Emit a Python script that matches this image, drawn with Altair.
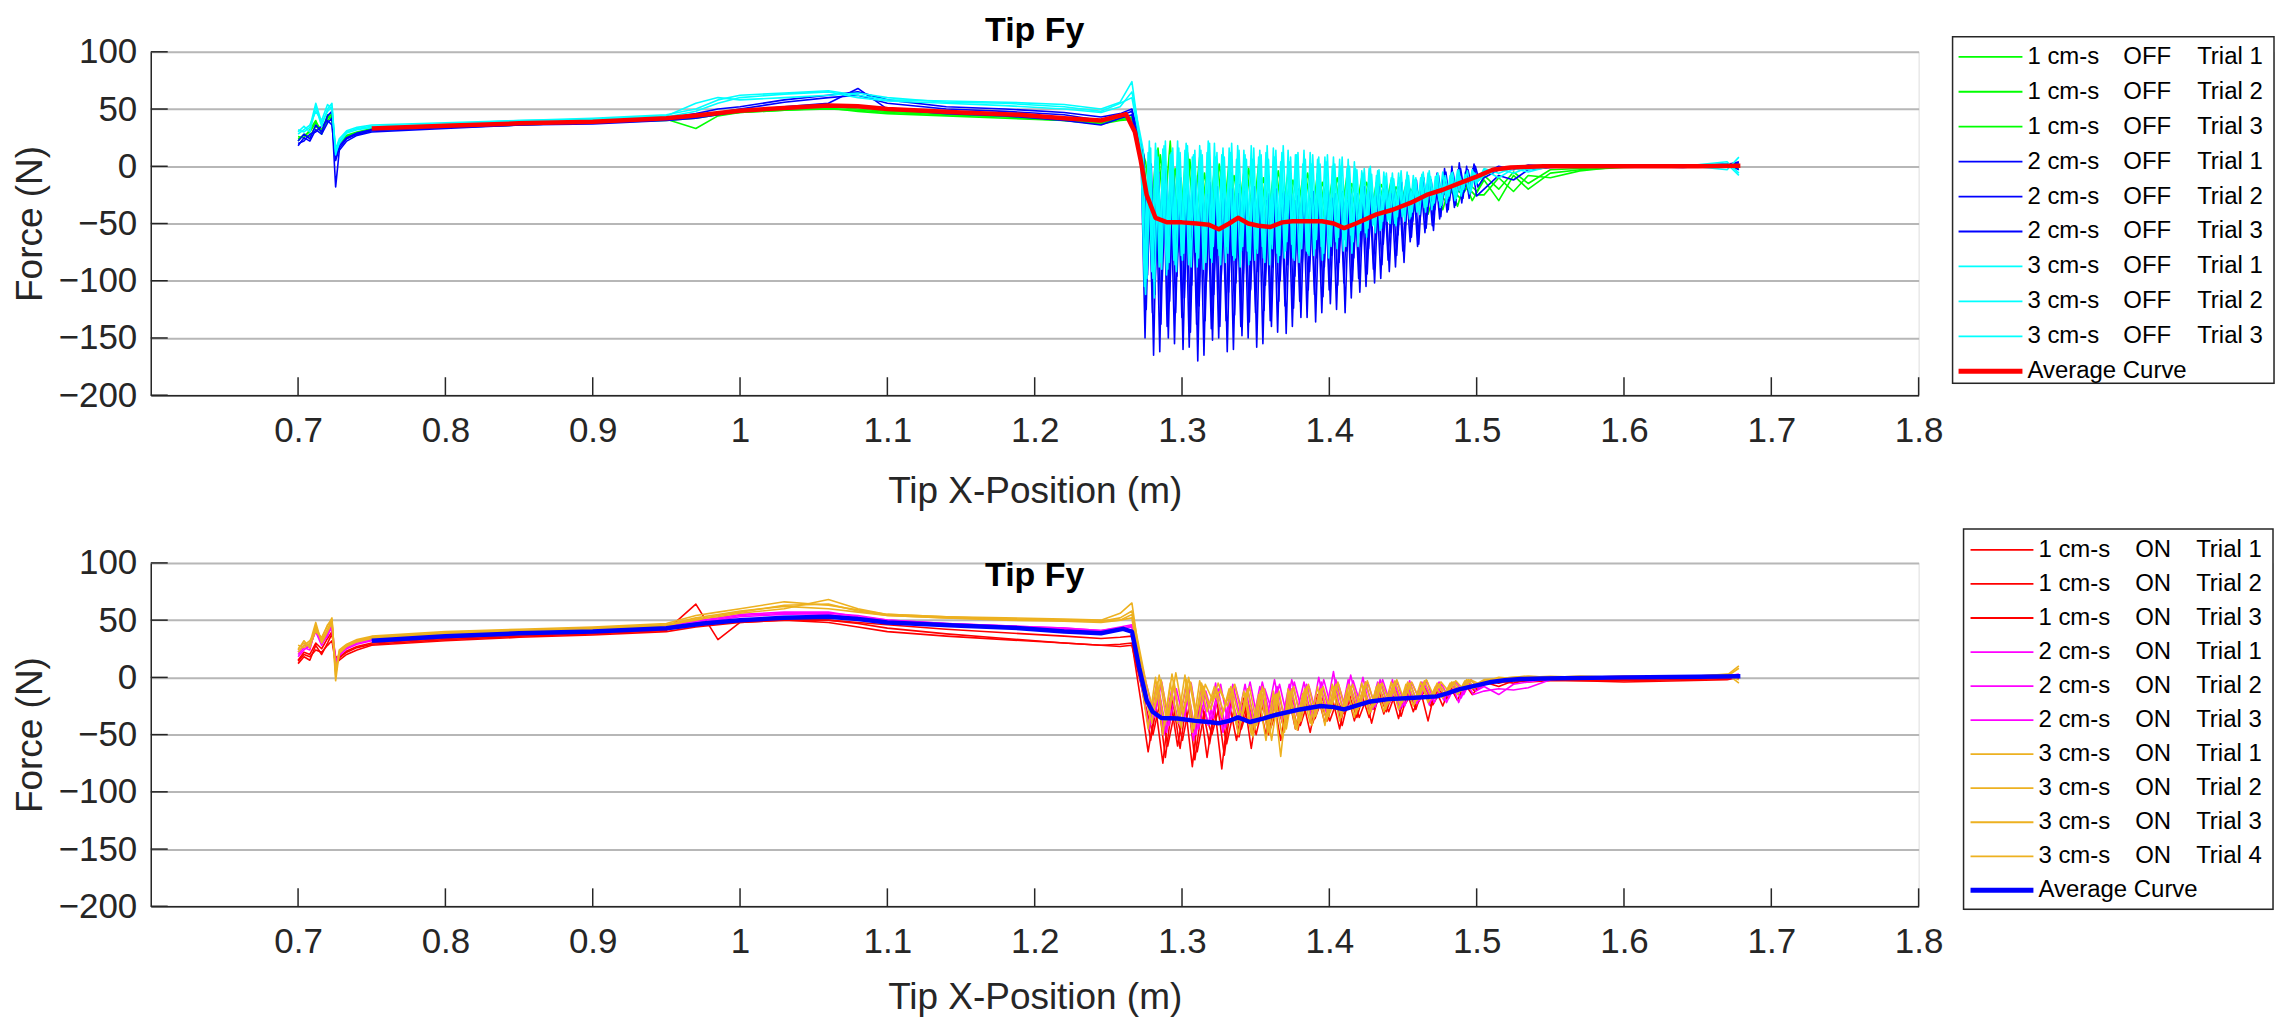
import altair as alt
import pandas as pd

# ---------------- axes ----------------
X_TICKS = [0.7, 0.8, 0.9, 1.0, 1.1, 1.2, 1.3, 1.4, 1.5, 1.6, 1.7, 1.8]
Y_TICKS = [-200, -150, -100, -50, 0, 50, 100]

# ---------------- x sampling (positions along the track, m) ----------------
X_START = [0.700, 0.704, 0.708, 0.712, 0.716, 0.720, 0.723, 0.7255, 0.728, 0.733,
           0.740, 0.750, 0.800, 0.850, 0.900, 0.950, 0.970, 0.985, 1.000, 1.030,
           1.060, 1.080, 1.100, 1.140, 1.180, 1.220, 1.245, 1.258, 1.266]
X_NOISE = [round(1.272 + 0.005 * i, 4) for i in range(46)]       # coarse sampling
X_NOISE_FINE = [round(1.272 + 0.0025 * i, 4) for i in range(92)]  # fine sampling
X_TAIL = [1.505, 1.515, 1.525, 1.535, 1.550, 1.570, 1.600, 1.640, 1.670, 1.678]

# ---------------- OFF trials (top panel) ----------------
OFF_G1 = ([24, 27, 30, 38, 32, 40, 44, 10, 20, 26, 29, 32, 35, 37, 38, 41, 33, 44, 47, 49, 50, 49, 47, 45, 43, 40, 37, 40, 41]
          + [20, -70, 5, -60, 22, -75, 0, -55, 8, -65, -2, -60, 4, -55, -5, -62, 2, -58, -8, -55,
             -4, -52, -10, -58, -6, -50, -12, -52, -8, -48, -10, -50, -14, -45, -12, -42, -16, -40, -18, -42,
             -20, -38, -16, -35, -14, -30]
          + [-12, -30, -8, -20, -6, -3, -1, 0, 1, -2])
OFF_G2 = ([22, 28, 26, 35, 30, 45, 40, 14, 22, 27, 30, 33, 36, 38, 39, 42, 44, 46, 48, 50, 52, 50, 48, 46, 44, 41, 38, 42, 43]
          + [10, -60, 16, -55, 2, -65, 12, -50, -4, -58, 6, -52, -6, -60, 0, -50, -8, -55, -2, -48,
             -10, -52, -6, -45, -12, -50, -8, -45, -14, -42, -12, -45, -15, -40, -16, -38, -18, -35, -20, -32,
             -22, -30, -20, -28, -18, -25]
          + [-25, -10, -22, -8, -10, -4, 0, 1, 0, 2])
OFF_G3 = ([26, 25, 32, 40, 28, 42, 46, 12, 21, 25, 28, 31, 34, 36, 38, 40, 42, 45, 47, 49, 51, 48, 46, 44, 42, 40, 37, 41, 42]
          + [4, -50, 10, -45, -2, -55, 6, -48, -6, -50, 2, -45, -8, -48, -2, -42, -10, -46, -4, -40,
             -12, -44, -6, -38, -14, -42, -10, -36, -15, -38, -14, -35, -16, -34, -18, -32, -20, -30, -22, -28,
             -22, -26, -20, -24, -16, -22]
          + [-8, -20, -5, -15, -3, -2, 0, 0, 1, -1])
OFF_B1 = ([18, 25, 22, 32, 28, 38, 42, -18, 14, 22, 27, 30, 33, 36, 37, 40, 42, 45, 48, 52, 55, 68, 50, 46, 44, 40, 36, 42, 45]
          + [0, -150, -8, -128, -12, -162, -5, -140, -15, -155,
             -18, -132, -20, -158, -15, -138, -22, -165, -25, -142,
             -18, -150, -24, -135, -20, -160, -26, -140, -22, -150,
             -28, -128, -25, -155, -30, -135, -24, -145, -28, -122,
             -26, -140, -30, -118, -25, -132, -28, -112, -30, -128,
             -24, -108, -28, -125, -26, -102, -30, -115, -24, -98,
             -25, -105, -22, -90, -26, -98, -20, -82, -24, -88,
             -18, -74, -20, -66, -15, -70, -16, -58, -12, -52,
             -10, -46, -6, -40, -8, -36, -3, -32, -5, -28,
             -2, -26]
          + [-20, -8, -12, -3, -1, 0, 0, 0, 2, 3])
OFF_B2 = ([20, 22, 28, 30, 35, 40, 36, 5, 16, 24, 28, 31, 34, 36, 38, 41, 43, 47, 50, 56, 60, 62, 55, 50, 48, 45, 40, 44, 48]
          + [5, -125, -4, -165, -10, -138, -6, -150, -16, -128,
             -12, -160, -22, -145, -18, -170, -20, -135, -25, -152,
             -22, -140, -20, -162, -26, -130, -24, -148, -28, -136,
             -22, -158, -30, -126, -26, -140, -28, -118, -24, -146,
             -30, -124, -26, -132, -28, -108, -25, -136, -30, -114,
             -26, -120, -28, -104, -24, -128, -30, -100, -26, -110,
             -22, -94, -26, -102, -24, -86, -20, -92, -22, -78,
             -20, -84, -16, -62, -18, -68, -12, -54, -14, -56,
             -6, -44, -2, -38, 0, -34, 3, -28, 0, -24,
             2, -18]
          + [-10, -3, -2, 0, 0, 1, 0, -1, 1, 4])
OFF_B3 = ([22, 28, 24, 36, 30, 44, 48, 8, 18, 25, 29, 32, 35, 37, 39, 42, 46, 50, 52, 58, 62, 65, 58, 52, 50, 47, 43, 46, 50]
          + [10, -95, 2, -112, -5, -100, 0, -118, -8, -96,
             -10, -115, -12, -104, -8, -122, -15, -100, -14, -112,
             -18, -96, -15, -110, -20, -102, -16, -94, -22, -108,
             -18, -92, -20, -104, -24, -88, -20, -100, -22, -86,
             -25, -96, -20, -84, -24, -92, -22, -80, -25, -88,
             -20, -78, -24, -84, -22, -74, -20, -80, -24, -70,
             -18, -72, -22, -64, -18, -68, -16, -58, -18, -60,
             -14, -52, -16, -48, -12, -46, -10, -42, -12, -38,
             -8, -34, -5, -30, -6, -26, -2, -22, -3, -18,
             0, -12]
          + [-6, 0, -3, 1, 0, 0, 0, 0, 2, -3])
OFF_C1 = ([30, 35, 30, 52, 35, 50, 55, 10, 22, 30, 33, 35, 37, 40, 41, 44, 55, 60, 58, 60, 62, 64, 60, 56, 55, 52, 48, 55, 60]
          + [18, -105, 12, -92, 20, -88, 15, -95, 10, -82,
             22, -78, 14, -86, 8, -75, 18, -90, 12, -80,
             20, -72, 10, -84, 16, -78, 6, -88, 14, -74,
             18, -82, 8, -70, 12, -86, 16, -76, 4, -80,
             14, -68, 10, -84, 2, -74, 12, -78, 6, -70,
             8, -80, 0, -66, 6, -74, -2, -60, 4, -70,
             -4, -58, -2, -52, -8, -56, -5, -48, -10, -50,
             -6, -44, -12, -46, -8, -40, -10, -36, -6, -38,
             -9, -30, -5, -32, -8, -24, -4, -26, -7, -20,
             -3, -16]
          + [-3, -10, -2, -5, 0, 0, 1, 0, 4, -6])
OFF_C2 = ([28, 32, 36, 48, 40, 54, 50, 15, 24, 31, 34, 36, 38, 40, 42, 45, 50, 58, 62, 64, 66, 62, 58, 57, 56, 54, 50, 56, 74]
          + [10, -112, 22, -98, 14, -84, 18, -90, 12, -86,
             16, -82, 20, -76, 10, -88, 14, -72, 22, -84,
             8, -78, 16, -70, 12, -82, 18, -74, 10, -86,
             6, -72, 14, -80, 18, -68, 8, -84, 12, -74,
             4, -80, 10, -66, 14, -76, 2, -72, 8, -82,
             4, -68, 8, -72, 0, -64, 6, -76, -2, -58,
             -6, -62, 0, -50, -4, -54, -9, -46, -6, -52,
             -10, -42, -5, -44, -12, -38, -7, -40, -4, -34,
             -8, -36, -10, -28, -6, -30, -3, -22, -8, -24,
             -5, -14]
          + [-8, -2, -6, -1, 0, 1, 0, 1, -3, 8])
OFF_C3 = ([32, 30, 34, 55, 38, 48, 52, 12, 20, 29, 32, 34, 36, 39, 40, 43, 48, 55, 60, 63, 65, 60, 57, 55, 53, 50, 47, 52, 65]
          + [14, -98, 16, -115, 8, -90, 22, -84, 16, -92,
             12, -76, 18, -88, 14, -80, 10, -84, 20, -70,
             12, -86, 8, -76, 20, -80, 14, -70, 6, -82,
             16, -76, 10, -84, 6, -72, 14, -78, 18, -66,
             8, -82, 12, -72, 6, -78, 10, -64, 2, -76,
             10, -70, 2, -62, 8, -70, 0, -66, -3, -56,
             -2, -54, -7, -58, -3, -48, -6, -50, -11, -44,
             -4, -48, -8, -40, -10, -42, -5, -35, -9, -32,
             -6, -34, -8, -26, -5, -28, -9, -20, -4, -22,
             -6, -12]
          + [-2, -6, -1, -3, 0, 0, 0, 0, 2, -8])

AVG_OFF_X = [0.750, 0.800, 0.850, 0.900, 0.950, 0.975, 1.000, 1.030, 1.060, 1.080,
             1.100, 1.150, 1.190, 1.220, 1.245, 1.262, 1.268, 1.272, 1.276, 1.282,
             1.290, 1.300, 1.310, 1.318, 1.325, 1.332, 1.338, 1.345, 1.352, 1.360,
             1.368, 1.375, 1.385, 1.395, 1.403, 1.410, 1.418, 1.432, 1.443, 1.455,
             1.466, 1.477, 1.488, 1.500, 1.511, 1.523, 1.545, 1.600, 1.650, 1.679]
AVG_OFF_Y = [33, 35.5, 37.5, 39, 42, 45, 48.5, 51, 53, 52.5,
             50, 47, 45, 42, 40, 45.5, 30, 5, -25, -45,
             -49, -49, -50, -51, -55, -50, -45, -50, -52, -53,
             -49, -48, -48, -48, -50, -54, -50, -42, -38, -32,
             -25, -20.5, -15, -9, -3, -1, 0, 0, 0, 0.5]

# ---------------- ON trials (bottom panel) ----------------
ON_R1 = ([12, 18, 15, 28, 20, 30, 38, 18, 17, 22, 26, 29, 33, 36, 38, 41, 64, 33, 48, 50, 50, 47, 43, 38, 34, 30, 28, 29, 30]
         + [-20, -65, -25, -75, -18, -60, -22, -78, -20, -70, -25, -80, -22, -55, -18, -62, -20, -50, -18, -55,
            -15, -45, -20, -48, -15, -40, -18, -45, -12, -38, -15, -35, -10, -32, -12, -36, -10, -30, -12, -38,
            -10, -25, -8, -20, -6, -15]
         + [-4, -8, -3, -4, -3, -3, -4, -3, -2, 0])
ON_R2 = ([14, 20, 18, 24, 22, 28, 32, 12, 15, 20, 24, 28, 32, 35, 37, 40, 44, 46, 48, 50, 48, 44, 40, 36, 33, 30, 28, 27, 28]
         + [-15, -55, -18, -70, -20, -62, -15, -72, -25, -58, -20, -68, -18, -52, -22, -48, -15, -50, -20, -42,
            -18, -46, -15, -40, -20, -38, -14, -42, -16, -35, -12, -40, -14, -30, -10, -34, -12, -28, -8, -25,
            -10, -20, -8, -16, -6, -12]
         + [-6, -3, -5, -2, -2, -3, -3, -2, -1, 2])
ON_R3 = ([15, 22, 20, 30, 25, 34, 40, 10, 18, 23, 27, 30, 34, 37, 39, 42, 45, 47, 49, 51, 50, 48, 46, 42, 39, 36, 34, 35, 36]
         + [-25, -50, -20, -60, -28, -55, -22, -65, -30, -50, -25, -58, -28, -45, -24, -50, -22, -44, -25, -40,
            -20, -42, -22, -36, -18, -38, -20, -32, -15, -35, -18, -28, -14, -30, -12, -26, -15, -22, -10, -24,
            -12, -18, -8, -14, -6, -10]
         + [-3, -5, -2, -3, -1, -2, -2, -1, 0, -1])
ON_M1 = ([20, 26, 24, 44, 30, 36, 46, 15, 19, 25, 29, 32, 36, 39, 41, 44, 48, 50, 53, 55, 56, 54, 50, 47, 45, 43, 41, 43, 44]
         + [-10, -45, -5, -50, -12, -40, -8, -55, -10, -42, -5, -48, -12, -38, -6, -42, -8, -35, -2, -38,
            -6, -32, -4, -36, 0, -30, 5, -34, -2, -28, 0, -30, -4, -25, -2, -28, -6, -22, -4, -24,
            -8, -20, -5, -22, -4, -15]
         + [-12, -10, -11, -9, -2, 0, 0, 0, 1, 2])
ON_M2 = ([18, 24, 28, 40, 28, 38, 44, 8, 20, 26, 30, 33, 37, 40, 42, 45, 50, 51, 54, 56, 55, 52, 49, 46, 44, 42, 40, 42, 45]
         + [-5, -40, -12, -48, -6, -42, -15, -50, -8, -38, -10, -44, -6, -35, -10, -40, -4, -32, -8, -36,
            -2, -30, -6, -34, -4, -28, -2, -30, 2, -26, -4, -28, -2, -24, -6, -26, -3, -23, -6, -20,
            -4, -22, -8, -18, -3, -12]
         + [-8, -15, -6, -4, -1, 0, 1, 0, 1, 3])
ON_M3 = ([22, 28, 26, 42, 32, 40, 42, 12, 21, 27, 31, 34, 37, 40, 42, 45, 49, 52, 55, 57, 57, 53, 50, 47, 45, 43, 41, 44, 46]
         + [-8, -35, -4, -42, -10, -38, -5, -45, -12, -36, -6, -40, -8, -32, -4, -36, -10, -30, -6, -34,
            -4, -28, -8, -32, -2, -26, -6, -28, -3, -24, -5, -26, -2, -22, -4, -25, -5, -20, -3, -22,
            -6, -18, -4, -15, -2, -10]
         + [-5, -2, -3, -1, 0, 0, 0, 1, 2, 1])
ON_O1 = ([25, 30, 28, 45, 32, 42, 50, -3, 22, 28, 32, 35, 39, 41, 43, 46, 52, 55, 58, 62, 60, 57, 54, 52, 51, 50, 49, 50, 52]
         + [-2, -45, 0, -50, -5, -40, 2, -48, -3, -30, -8, -35, -10, -42, -12, -50, -15, -55, -12, -69,
            -10, -45, -14, -40, -8, -42, -6, -38, -10, -35, -5, -32, -8, -30, -4, -28, -6, -25, -4, -22,
            -8, -18, -5, -15, -3, -10]
         + [-5, -2, -1, 0, 0, 1, 0, 1, 2, 10])
ON_O2 = ([22, 28, 32, 40, 35, 45, 52, 5, 24, 29, 33, 36, 40, 42, 44, 47, 54, 57, 60, 66, 63, 59, 55, 53, 52, 51, 50, 56, 65]
         + [0, -35, -4, -42, 3, -38, -2, -45, -5, -25, -10, -30, -8, -50, -14, -52, -12, -48, -15, -53,
            -12, -46, -10, -42, -12, -38, -8, -35, -6, -32, -8, -30, -5, -28, -6, -25, -4, -22, -6, -20,
            -5, -16, -4, -13, -2, -8]
         + [-3, -1, 0, 1, 0, 0, 1, 0, 3, -5])
ON_O3 = ([28, 26, 30, 48, 30, 40, 48, 2, 23, 28, 32, 35, 38, 41, 43, 46, 50, 54, 57, 63, 64, 58, 54, 52, 50, 49, 48, 50, 55]
         + [-4, -40, 2, -38, -3, -44, 0, -35, -8, -28, -5, -22, -12, -40, -10, -45, -8, -50, -14, -48,
            -10, -40, -8, -36, -10, -34, -6, -30, -8, -28, -4, -26, -6, -24, -3, -22, -5, -20, -3, -18,
            -6, -14, -4, -12, -2, -6]
         + [-4, 0, -1, 0, 1, 0, 0, 1, 1, 8])
ON_O4 = ([24, 32, 26, 42, 34, 46, 50, 6, 21, 27, 31, 34, 38, 40, 42, 45, 51, 53, 56, 60, 68, 60, 55, 53, 51, 50, 49, 52, 58]
         + [-6, -30, -2, -35, 4, -32, -4, -40, -6, -20, -12, -25, -6, -35, -8, -42, -10, -55, -12, -45,
            -8, -38, -6, -34, -8, -30, -4, -28, -6, -26, -3, -24, -5, -22, -2, -20, -4, -18, -2, -16,
            -4, -12, -3, -10, -2, -5]
         + [-2, -1, 0, 1, 0, 1, 0, 0, 2, -2])

AVG_ON_X = [0.750, 0.800, 0.850, 0.900, 0.950, 0.975, 1.000, 1.030, 1.060, 1.080,
            1.100, 1.150, 1.190, 1.220, 1.245, 1.260, 1.266, 1.271, 1.276, 1.280,
            1.286, 1.297, 1.309, 1.318, 1.325, 1.332, 1.338, 1.346, 1.355, 1.364,
            1.380, 1.394, 1.403, 1.410, 1.420, 1.428, 1.440, 1.455, 1.473, 1.480,
            1.488, 1.500, 1.510, 1.519, 1.530, 1.545, 1.600, 1.650, 1.679]
AVG_ON_Y = [32, 36, 38.5, 40, 43, 47, 50, 52, 53, 51,
            48, 45, 43, 40, 38.6, 42.4, 40, 8, -20, -30,
            -35.5, -36, -38, -39, -40, -38, -35, -39, -36, -32.6,
            -28, -25, -26, -28, -24, -21, -19, -18, -16.6, -14,
            -10.5, -7, -4, -2.6, -1.5, -1, 0, 0.5, 1]

# ---------------- legend / series meta ----------------
OFF_SPEED = ["1 cm-s", "1 cm-s", "1 cm-s", "2 cm-s", "2 cm-s", "2 cm-s", "3 cm-s", "3 cm-s", "3 cm-s"]
OFF_MODE = ["OFF"] * 9
OFF_TRIAL = ["Trial 1", "Trial 2", "Trial 3"] * 3
OFF_COLORS = ["#00ff00"] * 3 + ["#0000ff"] * 3 + ["#00ffff"] * 3
OFF_DATA = [OFF_G1, OFF_G2, OFF_G3, OFF_B1, OFF_B2, OFF_B3, OFF_C1, OFF_C2, OFF_C3]
OFF_SHIFT = [0.0, 0.0017, 0.0033, 0.0004, 0.0012, 0.0021, 0.0, 0.0008, 0.0017]

ON_SPEED = ["1 cm-s"] * 3 + ["2 cm-s"] * 3 + ["3 cm-s"] * 4
ON_MODE = ["ON"] * 10
ON_TRIAL = ["Trial 1", "Trial 2", "Trial 3", "Trial 1", "Trial 2", "Trial 3",
            "Trial 1", "Trial 2", "Trial 3", "Trial 4"]
ON_COLORS = ["#ff0000"] * 3 + ["#ff00ff"] * 3 + ["#edb120"] * 4
ON_DATA = [ON_R1, ON_R2, ON_R3, ON_M1, ON_M2, ON_M3, ON_O1, ON_O2, ON_O3, ON_O4]
ON_SHIFT = [0.0, 0.0017, 0.0033, 0.0008, 0.0025, 0.0042, 0.0, 0.0012, 0.0025, 0.0038]

AVG_LABEL = "Average Curve"

# ---------------- style ----------------
FONT = "Liberation Sans"
AX = "#262626"
W, H = 1771, 344

xscale = alt.Scale(domain=[0.6, 1.8], nice=False, zero=False)
yscale = alt.Scale(domain=[-200, 100], nice=False, zero=False)


def xaxis(title_pad):
    return alt.Axis(values=X_TICKS, format=".1~f", grid=False, ticks=False, domain=True,
                    domainColor=AX, domainWidth=1.5, labelFontSize=35, labelColor=AX,
                    labelPadding=18, labelFlush=False, labelOverlap=False,
                    labelFont=FONT, title="Tip X-Position (m)", titleFontSize=37,
                    titleFontWeight="normal", titleColor=AX, titlePadding=title_pad, titleFont=FONT)


def yaxis():
    return alt.Axis(values=Y_TICKS, grid=True, gridColor="#b7b7b7", gridWidth=2, ticks=False,
                    domain=True, domainColor=AX, domainWidth=1.5, labelFontSize=35,
                    labelColor=AX, labelPadding=14, labelFont=FONT, labelOverlap=False,
                    title="Force (N)", titleFontSize=37, titleFontWeight="normal",
                    titleColor=AX, titlePadding=9, titleFont=FONT)


def series_frame(ys, shift):
    n_noise = len(ys) - len(X_START) - len(X_TAIL)
    grid = X_NOISE_FINE if n_noise > len(X_NOISE) else X_NOISE
    xs = X_START + [x + shift for x in grid] + X_TAIL
    n = min(len(xs), len(ys))
    return pd.DataFrame({"x": xs[:n], "y": ys[:n]})


def line_layer(df, color, width, xax):
    return alt.Chart(df).mark_line(color=color, strokeWidth=width, strokeJoin="round").encode(
        x=alt.X("x:Q", scale=xscale, axis=xax),
        y=alt.Y("y:Q", scale=yscale, axis=yaxis()),
    )


def tick_layers(xax):
    xt = alt.Chart(pd.DataFrame({"x": X_TICKS})).mark_rule(color=AX, strokeWidth=1.5).encode(
        x=alt.X("x:Q", scale=xscale, axis=xax), y=alt.value(H), y2=alt.value(H - 18))
    yt = alt.Chart(pd.DataFrame({"y": Y_TICKS})).mark_rule(color=AX, strokeWidth=1.5).encode(
        y=alt.Y("y:Q", scale=yscale, axis=yaxis()), x=alt.value(0), x2=alt.value(17))
    return [xt, yt]


def panel(datas, shifts, colors, avg_x, avg_y, avg_color, title_offset, xtitle_pad):
    xax = xaxis(xtitle_pad)
    layers = [line_layer(series_frame(d, s), c, 1.6, xax) for d, s, c in zip(datas, shifts, colors)]
    layers.append(line_layer(pd.DataFrame({"x": avg_x, "y": avg_y}), avg_color, 4.5, xax))
    layers += tick_layers(xax)
    return alt.layer(*layers).properties(
        width=W, height=H,
        title=alt.TitleParams("Tip Fy", fontSize=34, fontWeight="bold", font=FONT,
                              color="#000000", anchor="middle", offset=title_offset),
    )


def legend(speeds, modes, trials, colors, avg_color, w, h, cols, lift, rows):
    keys = [f"{s}|{m}|{t}|{i}" for i, (s, m, t) in enumerate(zip(speeds, modes, trials))] + [AVG_LABEL]
    df = pd.DataFrame({
        "key": keys,
        "c1": speeds + [AVG_LABEL],
        "c2": modes + [""],
        "c3": trials + [""],
        "color": colors + [avg_color],
        "sw": [1.8] * len(speeds) + [5.0],
    })
    yenc = alt.Y("key:N", scale=alt.Scale(type="point", domain=keys, range=rows, padding=0), axis=None)
    frame = alt.Chart(pd.DataFrame({"k": [0]})).mark_rect(
        fill="white", stroke=AX, strokeWidth=1.5
    ).encode(x=alt.value(0), x2=alt.value(w), y=alt.value(-lift), y2=alt.value(h - lift))
    base = alt.Chart(df)
    rules = base.mark_rule().encode(
        x=alt.value(cols[0]), x2=alt.value(cols[1]), y=yenc,
        color=alt.Color("color:N", scale=None), strokeWidth=alt.StrokeWidth("sw:Q", scale=None))
    texts = [
        base.mark_text(align="left", baseline="middle", fontSize=24, font=FONT,
                       color="#000000").encode(x=alt.value(cx), y=yenc, text=f"{field}:N")
        for cx, field in zip(cols[2:], ["c1", "c2", "c3"])
    ]
    return alt.layer(frame, rules, *texts).properties(width=w, height=h - lift)


top = panel(OFF_DATA, OFF_SHIFT, OFF_COLORS, AVG_OFF_X, AVG_OFF_Y, "#ff0000", -13, 25)
bottom = panel(ON_DATA, ON_SHIFT, ON_COLORS, AVG_ON_X, AVG_ON_Y, "#0000ff", -47, 20)

leg_top = legend(OFF_SPEED, OFF_MODE, OFF_TRIAL, OFF_COLORS, "#ff0000", 322, 347,
                 [6, 70, 75, 171, 245], 15, [5, 320])
leg_bot = legend(ON_SPEED, ON_MODE, ON_TRIAL, ON_COLORS, "#0000ff", 310, 381,
                 [7, 70, 75, 172, 233], 34, [-13, 328])

row1 = alt.hconcat(top, leg_top, spacing=7)
row2 = alt.hconcat(bottom, leg_bot, spacing=18)

chart = (
    alt.vconcat(row1, row2, spacing=17)
    .resolve_scale(x="independent", y="independent")
    .properties(padding={"left": 2, "top": 4, "right": 0, "bottom": 0})
    .configure_view(stroke=None)
    .configure(font=FONT, background="white")
)

chart.save("out.html", embed_options={"renderer": "svg", "actions": False})
